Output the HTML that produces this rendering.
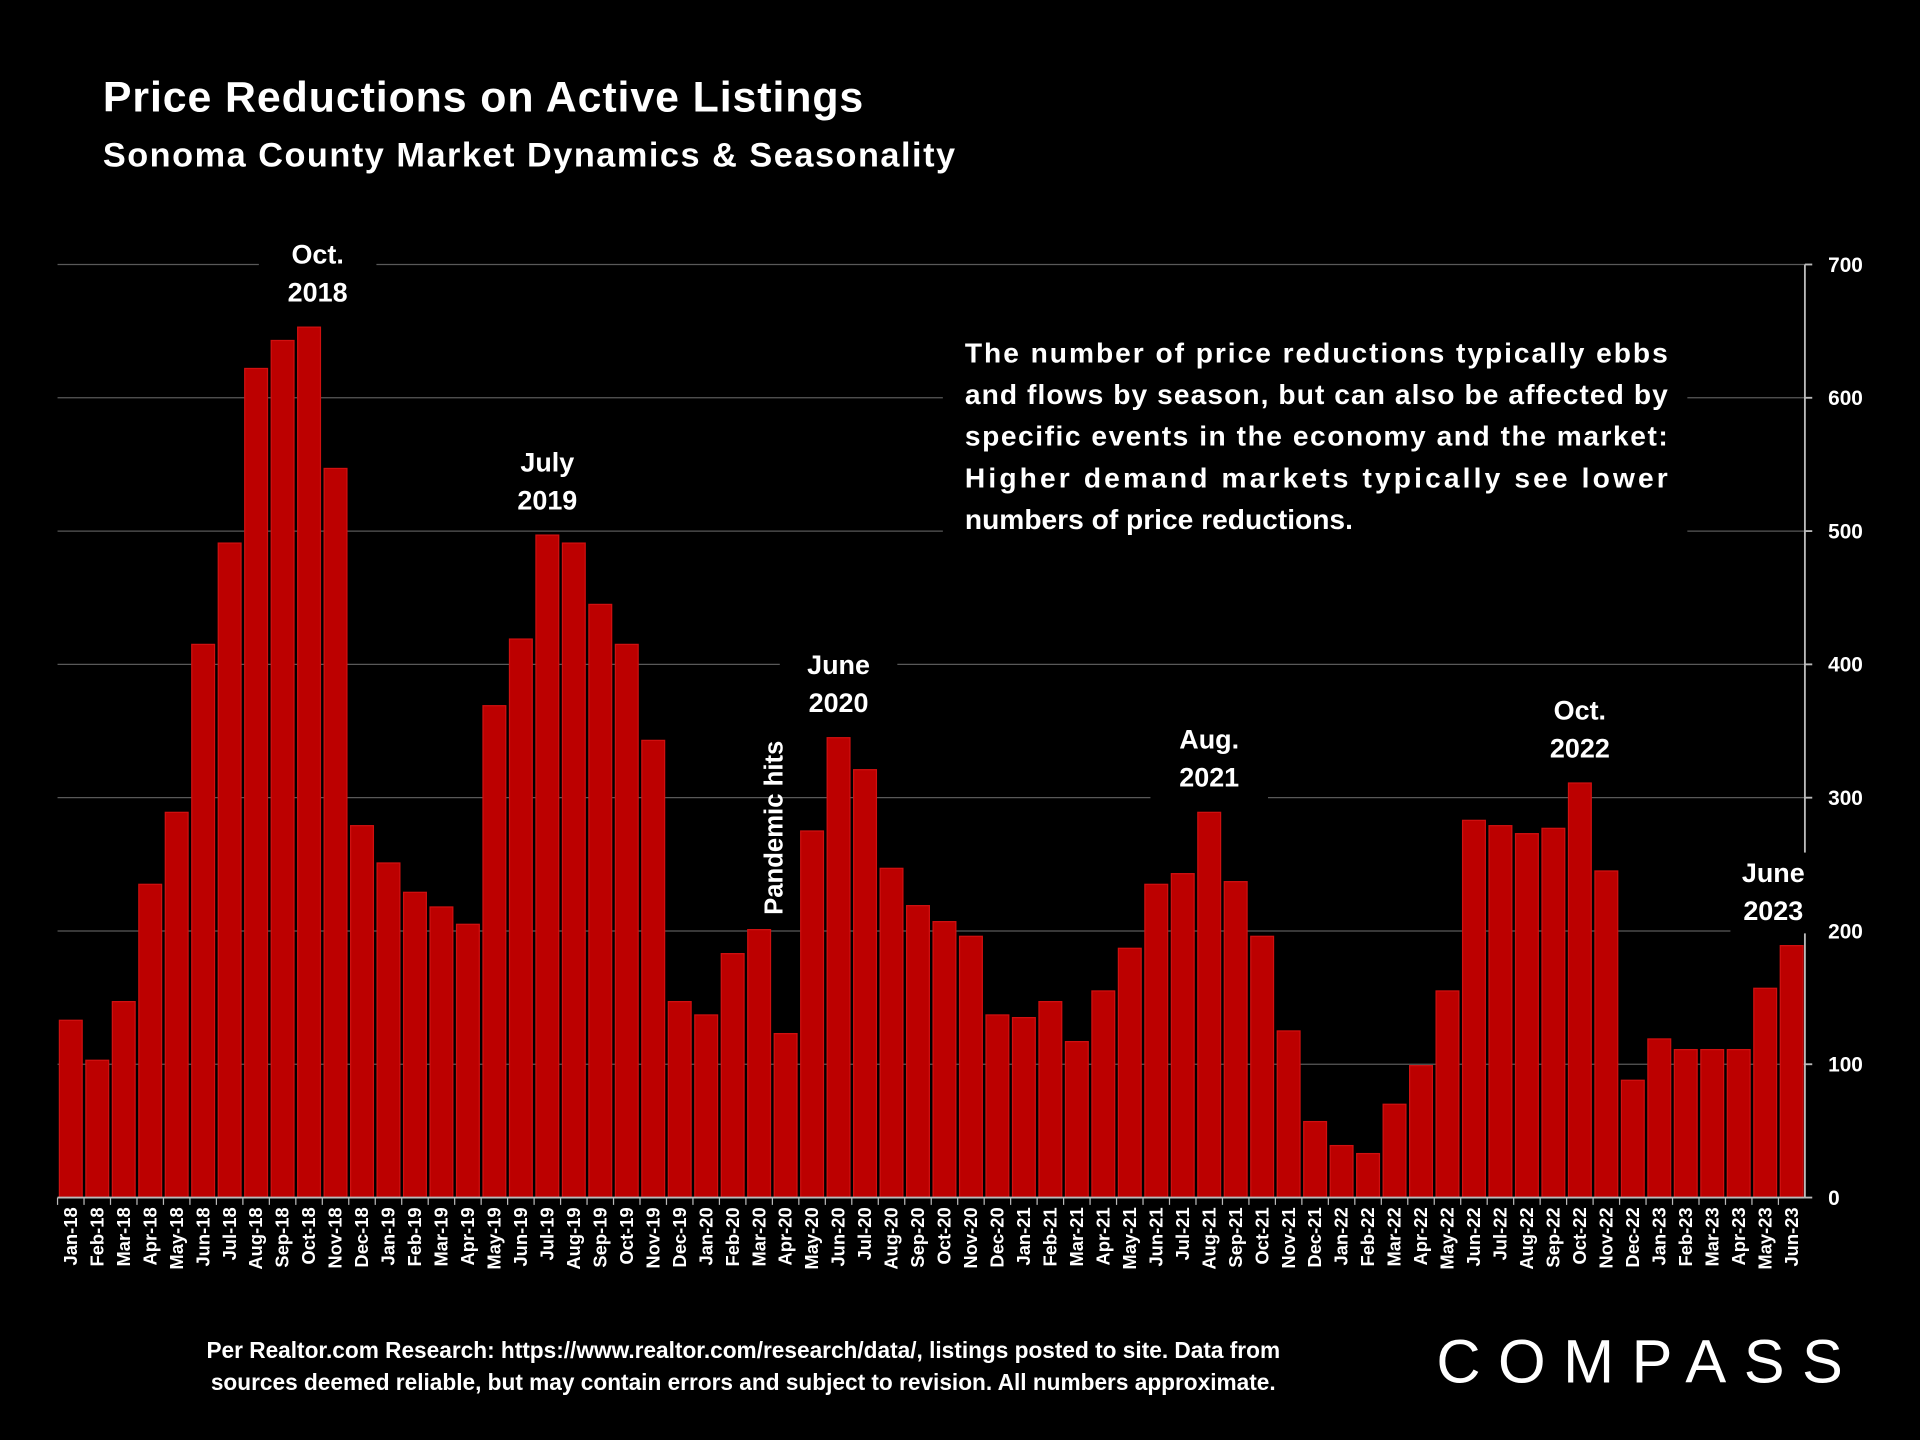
<!DOCTYPE html>
<html><head><meta charset="utf-8"><style>
html,body{margin:0;padding:0;background:#000;}
svg{display:block;font-family:"Liberation Sans",sans-serif;font-weight:bold;}
</style></head><body>
<svg id="chart" width="1920" height="1440" viewBox="0 0 1568 1176" xmlns="http://www.w3.org/2000/svg">
<rect width="1568" height="1176" fill="#000"/>
<text x="84" y="91" fill="#fff" font-size="35" textLength="621">Price Reductions on Active Listings</text>
<text x="84" y="136" fill="#fff" font-size="28" textLength="696">Sonoma County Market Dynamics &amp; Seasonality</text>
<g id="grid"></g>
<g id="bars"></g>
<g id="xlabels"></g>
<g id="yaxis"></g>
<g id="annots"></g>
<g fill="#fff" font-size="18.5" text-anchor="middle">
<text x="607" y="1109">Per Realtor.com Research:  https://www.realtor.com/research/data/, listings posted to site. Data from</text>
<text x="607" y="1135">sources deemed reliable, but may contain errors and subject to revision. All numbers approximate.</text>
</g>
<text x="1173" y="1129" fill="#fff" font-size="50" font-weight="normal" textLength="332" lengthAdjust="spacing">COMPASS</text>
</svg>
<script>
const categories=["Jan-18","Feb-18","Mar-18","Apr-18","May-18","Jun-18","Jul-18","Aug-18","Sep-18","Oct-18","Nov-18","Dec-18","Jan-19","Feb-19","Mar-19","Apr-19","May-19","Jun-19","Jul-19","Aug-19","Sep-19","Oct-19","Nov-19","Dec-19","Jan-20","Feb-20","Mar-20","Apr-20","May-20","Jun-20","Jul-20","Aug-20","Sep-20","Oct-20","Nov-20","Dec-20","Jan-21","Feb-21","Mar-21","Apr-21","May-21","Jun-21","Jul-21","Aug-21","Sep-21","Oct-21","Nov-21","Dec-21","Jan-22","Feb-22","Mar-22","Apr-22","May-22","Jun-22","Jul-22","Aug-22","Sep-22","Oct-22","Nov-22","Dec-22","Jan-23","Feb-23","Mar-23","Apr-23","May-23","Jun-23"];
const values=[133,103,147,235,289,415,491,622,643,653,547,279,251,229,218,205,369,419,497,491,445,415,343,147,137,183,201,123,275,345,321,247,219,207,196,137,135,147,117,155,187,235,243,289,237,196,125,57,39,33,70,99,155,283,279,273,277,311,245,88,119,111,111,111,157,189];
const yTicks=[0,100,200,300,400,500,600,700];
const annotations=[["Oct.","2018",9],["July","2019",18],["June","2020",29],["Aug.","2021",43],["Oct.","2022",57],["June","2023",65]];
const NS="http://www.w3.org/2000/svg";
const X0=47,X1=1474,Y0=978,Y1=216,YMAX=700;
const bw=(X1-X0)/categories.length;
const y=v=>Y0-(v/YMAX)*(Y0-Y1);
const xc=i=>X0+bw*(i+0.5);
function mk(tag,attrs,parent){const e=document.createElementNS(NS,tag);for(const k in attrs)e.setAttribute(k,attrs[k]);parent.appendChild(e);return e;}
const grid=document.getElementById('grid'),bars=document.getElementById('bars'),xl=document.getElementById('xlabels'),ya=document.getElementById('yaxis'),an=document.getElementById('annots');
yTicks.forEach(t=>{
  if(t>0){const l=mk('line',{x1:X0,x2:X1,y1:y(t),y2:y(t),stroke:'#595959','stroke-width':1},grid);
  
  }
  mk('line',{x1:X1,x2:X1+6,y1:y(t),y2:y(t),stroke:'#bbb','stroke-width':1.5},ya);
});
mk('line',{x1:X1,x2:X1,y1:Y1,y2:Y0,stroke:'#bbb','stroke-width':1.5},ya);
const xa=mk('line',{x1:X0,x2:X1,y1:Y0,y2:Y0,stroke:'#bbb','stroke-width':1.5},ya);


values.forEach((v,i)=>{
  const r=mk('rect',{x:X0+bw*i+1.5,y:y(v),width:bw-3,height:Y0-y(v),fill:'#bc0000',stroke:'#d01010','stroke-width':1},bars);
  
  
  mk('line',{x1:X0+bw*i,x2:X0+bw*i,y1:Y0,y2:Y0+6,stroke:'#bbb','stroke-width':1},xl);
  const t=mk('text',{transform:`translate(${xc(i)+5},${Y0+8}) rotate(-90)`,'text-anchor':'end',fill:'#fff','font-size':15},xl);
  t.textContent=categories[i];
  
  
});
annotations.forEach(a=>{
  const off=a[2]===9?7:(a[2]===65?-15:0);
  const w=a[2]===65?70:96;
  const cx=xc(a[2])+off,top=y(values[a[2]])-52;
  mk('rect',{x:cx-w/2,y:top-24,width:w,height:66,fill:'#000'},an);
  const t=mk('text',{x:cx,y:top,'text-anchor':'middle',fill:'#fff','font-size':22},an);
  
  
  mk('tspan',{x:cx,dy:0},t).textContent=a[0];
  mk('tspan',{x:cx,dy:31},t).textContent=a[1];
});
yTicks.forEach(t=>{
  const tx=mk('text',{x:X1+19,y:y(t)+6,fill:'#fff','font-size':17},ya);
  tx.textContent=t;
  
  
});
const p=mk('text',{transform:`translate(${xc(26)+19},${y(values[26])-12}) rotate(-90)`,fill:'#fff','font-size':21},an);
p.textContent='Pandemic hits';


mk('rect',{x:770,y:266,width:608,height:172,fill:'#000'},an);
const lines=["The number of price reductions typically ebbs","and flows by season, but can also be affected by","specific events in the economy and the market:","Higher demand markets typically see lower","numbers of price reductions."];
lines.forEach((s,k)=>{
  const at={x:788,y:296+k*34,fill:'#fff','font-size':23};
  if(k<4){at.textLength=574;at.lengthAdjust='spacing';}
  const t=mk('text',at,an);t.textContent=s;
  
  
});
</script>
</body></html>
